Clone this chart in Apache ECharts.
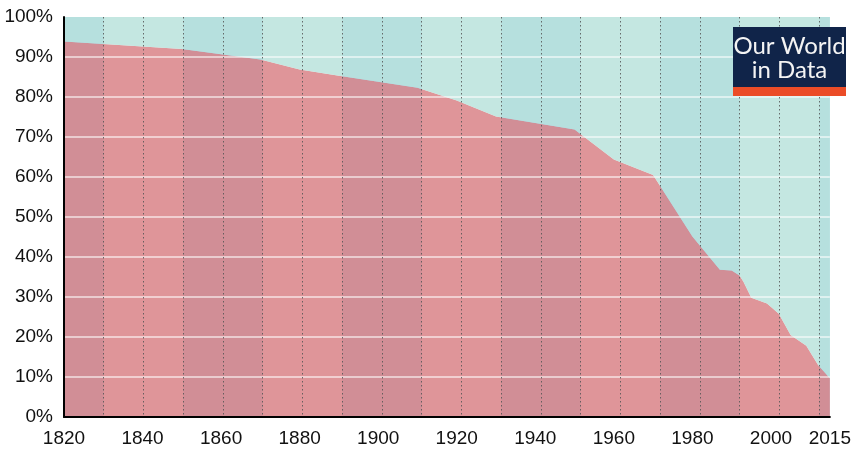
<!DOCTYPE html>
<html>
<head>
<meta charset="utf-8">
<script src="https://cdn.jsdelivr.net/npm/echarts@6/dist/echarts.min.js"></script>
<style>
  html, body { margin: 0; padding: 0; background: #ffffff; }
  #chart { width: 854px; height: 450px; }
</style>
</head>
<body>
<div id="chart"></div>
<script>
// ---- Data ----
const years = [1820, 1850, 1860, 1870, 1880, 1890, 1900, 1910, 1920, 1930, 1940, 1950, 1960, 1970, 1980, 1987, 1990, 1992, 1993, 1995, 1999, 2002, 2005, 2009, 2012, 2015];
// share of world population living in extreme poverty (%); the rest of each column is "not in extreme poverty"
const poorShare = [93.9, 92.0, 90.7, 89.4, 86.9, 85.3, 83.8, 82.3, 79.1, 75.1, 73.5, 71.9, 64.4, 60.5, 45.1, 36.8, 36.6, 35.4, 33.8, 29.8, 28.4, 25.8, 20.5, 17.8, 13.0, 9.7];
// axis labels
const xTickLabels = [1820, 1840, 1860, 1880, 1900, 1920, 1940, 1960, 1980, 2000, 2015];

// decorative background grid (dotted lines and bands), independent of the data scale
const decoGridSpan = 192.7;
const decoGridStep = 10;

const chart = echarts.init(document.getElementById('chart'), null, { renderer: 'canvas' });

const bandDark = 'rgb(183,219,241)';
const clear = 'rgba(0,0,0,0)';
const labelFont = 'Liberation Sans';

const option = {
  animation: false,
  backgroundColor: '#ffffff',
  grid: { left: 64, right: 23, top: 17, bottom: 33, containLabel: false },
  xAxis: [
    {
      type: 'value', min: years[0], max: years[years.length - 1],
      position: 'bottom', z: 6,
      axisLine: { show: true, lineStyle: { color: '#000', width: 2 } },
      axisTick: { show: false },
      splitLine: { show: false },
      axisLabel: {
        customValues: xTickLabels,
        fontFamily: labelFont, fontSize: 19, color: '#111', margin: 12,
        formatter: v => String(v)
      }
    },
    {
      type: 'value', min: 0, max: decoGridSpan, interval: decoGridStep,
      show: true, position: 'top', z: 0,
      axisLine: { show: false }, axisTick: { show: false }, axisLabel: { show: false },
      splitLine: { show: false },
      splitArea: { show: true, areaStyle: { color: [bandDark, clear, clear, bandDark] } }
    },
    {
      type: 'value', min: 0, max: decoGridSpan, interval: decoGridStep,
      show: true, position: 'top', z: 5,
      axisLine: { show: false }, axisTick: { show: false }, axisLabel: { show: false },
      splitArea: { show: false },
      splitLine: {
        show: true, showMinLine: false, showMaxLine: false,
        lineStyle: { color: 'rgba(85,85,85,0.85)', width: 1, type: [1.5, 2.5] }
      }
    }
  ],
  yAxis: {
    type: 'value', min: 0, max: 100, interval: 10, z: 5,
    axisLine: { show: true, lineStyle: { color: '#000', width: 2 } },
    axisTick: { show: false },
    axisLabel: {
      fontFamily: labelFont, fontSize: 19, color: '#111', margin: 11,
      padding: [4, 0, 0, 0],
      formatter: '{value}%'
    },
    splitLine: {
      show: true, showMinLine: false, showMaxLine: false,
      lineStyle: { color: 'rgba(255,255,255,0.55)', width: 2 }
    }
  },
  series: [
    {
      name: 'Living in extreme poverty',
      type: 'line', xAxisIndex: 0,
      data: years.map((y, i) => [y, poorShare[i]]),
      showSymbol: false, symbol: 'none',
      lineStyle: { width: 0, opacity: 0 },
      areaStyle: { color: 'rgba(215,123,128,0.8)', opacity: 1, origin: 'start' }
    },
    {
      name: 'Not in extreme poverty',
      type: 'line', xAxisIndex: 0,
      data: years.map((y, i) => [y, poorShare[i]]),
      showSymbol: false, symbol: 'none',
      lineStyle: { width: 0, opacity: 0 },
      areaStyle: { color: 'rgba(181,225,218,0.8)', opacity: 1, origin: 'end' }
    }
  ],
  graphic: [
    { type: 'rect', z: 100, shape: { x: 733, y: 27, width: 113, height: 60 }, style: { fill: '#102449' } },
    { type: 'rect', z: 100, shape: { x: 733, y: 87, width: 113, height: 9 }, style: { fill: '#EB4C27' } },
    { type: 'text', z: 101, x: 789.5, y: 46, style: { text: 'Our World', fill: '#f4f4f4', font: '24px Lato', align: 'center', verticalAlign: 'middle' } },
    { type: 'text', z: 101, x: 789.5, y: 70, style: { text: 'in Data', fill: '#f4f4f4', font: '24px Lato', align: 'center', verticalAlign: 'middle' } }
  ]
};

chart.setOption(option);
</script>
</body>
</html>
